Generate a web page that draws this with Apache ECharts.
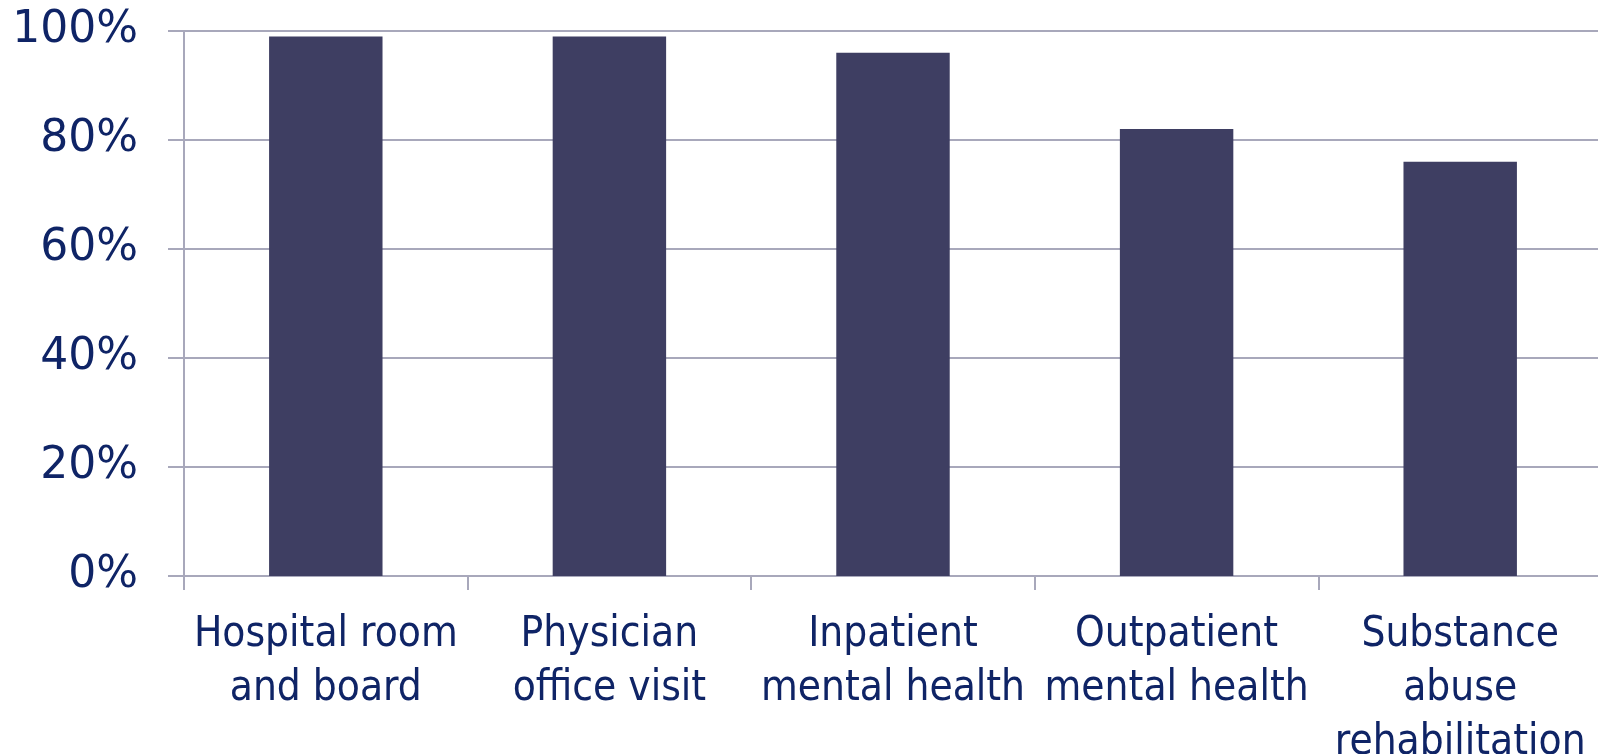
<!DOCTYPE html>
<html><head><meta charset="utf-8">
<script src="https://cdn.jsdelivr.net/npm/echarts@6/dist/echarts.min.js"></script>
<style>html,body{margin:0;padding:0;background:#fff}#c{width:1598px;height:754px}</style>
</head><body><div id="c"></div>
<script>
const categories = ["Hospital room\nand board", "Physician\noffice visit", "Inpatient\nmental health", "Outpatient\nmental health", "Substance\nabuse\nrehabilitation"];
const values = [99, 99, 96, 82, 76];
const yTicks = [0, 20, 40, 60, 80, 100];

const textColor = '#0f2466';
const gridColor = '#a8a8bb';
const chart = echarts.init(document.getElementById('c'), null, {renderer: 'canvas'});
chart.setOption({
  animation: false,
  grid: {left: 184, right: -4, top: 31, bottom: 178, containLabel: false, outerBoundsMode: 'none'},
  xAxis: {
    type: 'category', data: categories,
    axisLine: {lineStyle: {color: gridColor, width: 2}},
    axisTick: {show: true, length: 14, lineStyle: {color: gridColor, width: 2}},
    axisLabel: {color: textColor, fontFamily: 'DejaVu Sans Condensed', fontSize: 42, lineHeight: 54, margin: 32, interval: 0}
  },
  yAxis: {
    type: 'value', min: yTicks[0], max: yTicks[yTicks.length-1], interval: 20,
    axisLine: {show: true, lineStyle: {color: gridColor, width: 2}},
    axisTick: {show: true, length: 16, lineStyle: {color: gridColor, width: 2}},
    splitLine: {show: true, lineStyle: {color: gridColor, width: 2}},
    axisLabel: {color: textColor, fontFamily: 'DejaVu Sans', fontSize: 44, margin: 46, formatter: v => v + '%'}
  },
  series: [{
    type: 'bar', data: values, barWidth: '40%',
    itemStyle: {color: '#3e3e62'}
  }]
});
</script></body></html>
